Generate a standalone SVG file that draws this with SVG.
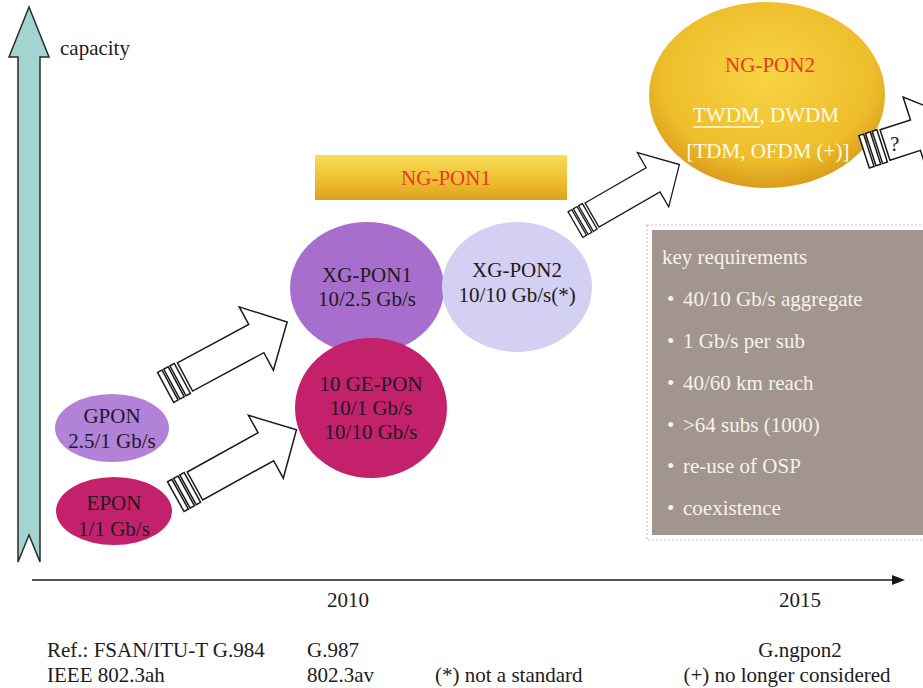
<svg xmlns="http://www.w3.org/2000/svg" width="923" height="688" viewBox="0 0 923 688">
<style>
text{font-family:"Liberation Serif","Times New Roman",serif;font-size:21px;fill:#1e1a1e}
.c{text-anchor:middle}
.red{fill:#e63a26}
.lt{fill:#fffbe8}
.box{fill:#f6f2ee}
.arr{fill:#fff;stroke:#1a1a1a;stroke-width:1.5;stroke-linejoin:miter}
.ax{stroke:#1a1a1a;stroke-width:1.6;fill:none}
</style>
<defs>
<linearGradient id="barG" x1="0" y1="0" x2="0" y2="1">
<stop offset="0" stop-color="#f8dc58"/>
<stop offset="0.6" stop-color="#edbd2e"/>
<stop offset="1" stop-color="#dca021"/>
</linearGradient>
<radialGradient id="ng2G" cx="0.5" cy="0.4" r="0.6">
<stop offset="0" stop-color="#f7d443"/>
<stop offset="0.75" stop-color="#eebd2b"/>
<stop offset="1" stop-color="#d99c1c"/>
</radialGradient>
<g id="blockArrow">
<rect class="arr" x="-22" y="-17" width="5" height="34"/>
<rect class="arr" x="-15" y="-17" width="5" height="34"/>
<rect class="arr" x="-8" y="-17" width="5" height="34"/>
<path class="arr" d="M0,-16 L81,-16 L81,-36 L116,0 L81,36 L81,16 L0,16 Z"/>
</g>
</defs>
<rect width="923" height="688" fill="#fff"/>

<g id="axis-capacity">
<polygon points="29,7 49,57 40,57 40,562 29,535 18,562 18,57 9,57" fill="#a2d4d2" stroke="#2a2a2a" stroke-width="1.5"/>
<text x="60" y="55">capacity</text>
</g>

<g id="axis-time">
<line class="ax" x1="32" y1="580" x2="894" y2="580"/>
<polygon points="892,575 905,580 892,585" fill="#1a1a1a"/>
<text class="c" x="348" y="607">2010</text>
<text class="c" x="800" y="607">2015</text>
</g>

<g id="node-ngpon1">
<rect x="315" y="155" width="252" height="45" fill="url(#barG)"/>
<text class="c red" x="446" y="185">NG-PON1</text>
</g>

<g id="node-ngpon2">
<ellipse cx="767" cy="95" rx="118" ry="93" fill="url(#ng2G)"/>
<text class="c red" x="770" y="72">NG-PON2</text>
<text class="lt" x="693" y="122">TWDM, DWDM</text>
<line x1="693" y1="127" x2="760" y2="127" stroke="#fffbe8" stroke-width="1.5"/>
<text class="c lt" x="768" y="158">[TDM, OFDM (+)]</text>
</g>

<g id="node-gpon">
<ellipse cx="112" cy="428" rx="57" ry="34" fill="#b282d8"/>
<text class="c" x="112" y="423" font-size="20">GPON</text>
<text class="c" x="112" y="448" font-size="20">2.5/1 Gb/s</text>
</g>

<g id="node-epon">
<ellipse cx="114" cy="511" rx="58" ry="34" fill="#c4216d"/>
<text class="c" x="114" y="510" font-size="20">EPON</text>
<text class="c" x="114" y="536" font-size="20">1/1 Gb/s</text>
</g>

<g id="node-xgpon1">
<ellipse cx="367" cy="288" rx="77" ry="66" fill="#a86ecd"/>
<text class="c" x="367" y="282" font-size="20">XG-PON1</text>
<text class="c" x="367" y="306" font-size="20">10/2.5 Gb/s</text>
</g>

<g id="node-xgpon2">
<ellipse cx="517" cy="287" rx="75" ry="65" fill="#d3d0f3"/>
<text class="c" x="517" y="277" font-size="20">XG-PON2</text>
<text class="c" x="517" y="302" font-size="20">10/10 Gb/s(*)</text>
</g>

<g id="node-10gepon">
<ellipse cx="371" cy="408" rx="76" ry="70" fill="#c4216d"/>
<text class="c" x="371" y="391" font-size="20">10 GE-PON</text>
<text class="c" x="371" y="415" font-size="20">10/1 Gb/s</text>
<text class="c" x="371" y="439" font-size="20">10/10 Gb/s</text>
</g>

<g id="node-requirements">
<rect x="647" y="225" width="290" height="315" fill="#fff" stroke="#c8c4c0" stroke-width="1.2" stroke-dasharray="2 2"/>
<rect x="652" y="230" width="280" height="305" fill="#a1958d"/>
<text class="box" x="662" y="264">key requirements</text>
<text class="box" x="667" y="306">•</text><text class="box" x="683" y="306">40/10 Gb/s aggregate</text>
<text class="box" x="667" y="348">•</text><text class="box" x="683" y="348">1 Gb/s per sub</text>
<text class="box" x="667" y="390">•</text><text class="box" x="683" y="390">40/60 km reach</text>
<text class="box" x="667" y="432">•</text><text class="box" x="683" y="432">&gt;64 subs (1000)</text>
<text class="box" x="667" y="473">•</text><text class="box" x="683" y="473">re-use of OSP</text>
<text class="box" x="667" y="515">•</text><text class="box" x="683" y="515">coexistence</text>
</g>

<g id="connectors">
<use href="#blockArrow" transform="translate(185,377) rotate(-28.3)"/>
<use href="#blockArrow" transform="translate(195,486) rotate(-29)"/>
<use href="#blockArrow" transform="translate(592,215) rotate(-30) scale(0.87)"/>
<g transform="translate(885,145) rotate(-18)">
<rect class="arr" x="-22" y="-17" width="5" height="34"/>
<rect class="arr" x="-15" y="-17" width="5" height="34"/>
<rect class="arr" x="-8" y="-17" width="5" height="34"/>
<path class="arr" d="M0,-16 L32,-16 L32,-40 L80,0 L32,40 L32,16 L0,16 Z"/>
</g>
<text x="890" y="151" font-size="19">?</text>
</g>

<g id="references">
<text x="47" y="657">Ref.: FSAN/ITU-T G.984</text>
<text x="47" y="682">IEEE 802.3ah</text>
<text x="307" y="657">G.987</text>
<text x="307" y="682">802.3av</text>
<text x="435" y="682">(*) not a standard</text>
<text class="c" x="800" y="657">G.ngpon2</text>
<text class="c" x="787" y="682">(+) no longer considered</text>
</g>
</svg>
